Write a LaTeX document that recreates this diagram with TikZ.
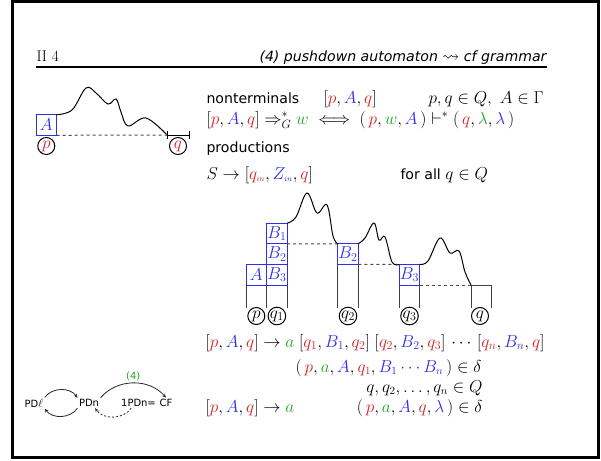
\documentclass[tikz,border=0pt]{standalone}
\usepackage{amsmath,amssymb}
\usepackage{fontspec}
\setsansfont{DejaVu Sans}[Scale=0.83]
\usetikzlibrary{calc, positioning, arrows.meta}

\definecolor{stred}{RGB}{210,35,35}
\definecolor{stblue}{RGB}{45,45,235}
\definecolor{stgreen}{RGB}{35,165,35}
\newcommand{\cst}[1]{\textcolor{stred}{#1}}
\newcommand{\csy}[1]{\textcolor{stblue}{#1}}
\newcommand{\cin}[1]{\textcolor{stgreen}{#1}}

\tikzset{
  stackbox/.style={draw=stblue, text=stblue, minimum size=20.6pt, inner sep=0pt, outer sep=0pt},
  statecirc/.style={draw, circle, minimum size=17pt, inner sep=0pt},
  txt/.style={anchor=base west, inner sep=0pt},
  rtxt/.style={anchor=base east, inner sep=0pt, font=\fontsize{16.2}{19}\selectfont},
  wave/.style={smooth, tension=0.6},
  leg/.style={black!75},
  dashline/.style={black!70, dash pattern=on 3pt off 3pt},
  cls/.style={font=\sffamily\fontsize{12}{14}\selectfont, inner sep=1pt},
  arr/.style={-{Stealth[length=4pt,width=3.5pt]}, black!85, line width=0.8pt},
}

\begin{document}
\fontsize{17}{20}\selectfont
\begin{tikzpicture}[x=1pt, y=-1pt, line width=1pt]
  \useasboundingbox (0,0) rectangle (601,460);

  % --- Frame and header ---
  \draw[line width=3pt] (12.5,1.5) rectangle (598.5,457.5);
  \node[txt, font=\rmfamily\fontsize{15.5}{18}\selectfont] (sec) at (36,61) {II 4};
  \node[rtxt, font=\sffamily\itshape\fontsize{17}{20}\selectfont] (title) at (547,61)
    {(4) pushdown automaton $\rightsquigarrow$ cf grammar};
  \draw[line width=2.2pt] (36,67) -- (547,67);

  % --- Left picture: one symbol A popped from p to q ---
  \node[stackbox] (lA) at (46.3,125) {$A$};
  \coordinate (lqL) at (167,135);
  \coordinate (lqR) at (189,135);
  \draw plot[wave] coordinates {(lA.north east) (72,110) (86,88) (96,93)
    (108,104) (116,99) (121,112) (128,126) (146,118) (lqL)};
  \draw[dashline] (lA.south east) -- (lqL);
  \draw (lqL) -- (lqR);
  \draw (lqL) ++(0,-4) -- ++(0,8);
  \draw (lqR) ++(0,-4) -- ++(0,8);
  \node[statecirc] (lp) at (46.3,146) {$\cst p$};
  \node[statecirc] (lq) at (178,146) {$\cst q$};

  % --- Nonterminals ---
  \node[txt, font=\sffamily] (nt) at (206,103) {nonterminals};
  \node[txt] (ntt) at (323,103) {$[\cst p,\csy A,\cst q]$};
  \node[txt] (ntq) at (428,103) {$p,q\in Q,\ A\in\Gamma$};
  \node[txt] (der) at (206,124) {$[\cst p,\csy A,\cst q]\Rightarrow_G^*\cin w
    \iff(\,\cst p,\cin w,\csy A\,)\vdash^*(\,\cst q,\cin\lambda,\csy\lambda\,)$};

  % --- Productions ---
  \node[txt, font=\sffamily] (prod) at (206,152) {productions};
  \node[txt] (start) at (206,179)
    {$S\to[\cst{q_{\scriptscriptstyle in}},\csy{Z_{\scriptscriptstyle in}},\cst q]$};
  \node[txt, font=\sffamily] (forall) at (400,179) {for all $q\in Q$};

  % --- Middle picture: A replaced by B1 B2 B3 ---
  \node[stackbox] (mA) at (256.3,274.7) {$A$};
  \node[stackbox, right=0pt of mA] (mB3) {$B_3$};
  \node[stackbox, above=0pt of mB3] (mB2) {$B_2$};
  \node[stackbox, above=0pt of mB2] (mB1) {$B_1$};
  \node[stackbox] (nB2) at (348,254.1) {$B_2$};
  \node[stackbox] (nB3) at (409.5,274.7) {$B_3$};
  \coordinate (qL) at (471,285);
  \coordinate (qR) at (491,285);

  \foreach \a in {mA.south west, mA.south east, mB3.south east, nB2.south west,
                  nB2.south east, nB3.south west, nB3.south east, qL, qR}
    \draw[leg] (\a) -- (\a |- 0,308);
  \draw[leg] (qL) -- (qR);

  \draw[dashline] (mB1.south east) -- (nB2.north west);
  \draw[dashline] (nB2.south east) -- (nB3.north west);
  \draw[dashline] (nB3.south east) -- (qL);

  \draw plot[wave] coordinates {(mB1.north east) (296,217) (307,193) (317,213)
    (327,205) (333,236) (nB2.north west)};
  \draw plot[wave] coordinates {(nB2.north east) (365,238) (374,223) (379,240)
    (385,237) (392,262) (nB3.north west)};
  \draw plot[wave] coordinates {(nB3.north east) (428,261) (440,238) (450,253)
    (459,251) (465,272) (qL)};

  \node[statecirc] (cp) at (256.3,316) {$p$};
  \node[statecirc] (cq1) at (276.9,316) {$q_1$};
  \node[statecirc] (cq2) at (348,316) {$q_2$};
  \node[statecirc] (cq3) at (409.5,316) {$q_3$};
  \node[statecirc] (cq) at (480,316) {$q$};

  % --- Rules ---
  \node[txt] (rule1) at (205,347) {$[\cst p,\csy A,\cst q]\to\cin a\;[\cst{q_1},\csy{B_1},\cst{q_2}]\;
    [\cst{q_2},\csy{B_2},\cst{q_3}]\,\cdots\,[\cst{q_n},\csy{B_n},\cst q]$};
  \node[rtxt] (cond1) at (482,372) {$(\,\cst p,\cin a,\csy A,\cst{q_1},\csy{B_1\cdots B_n}\,)\in\delta$};
  \node[rtxt] (cond2) at (483,392) {$q,q_2,\ldots,q_n\in Q$};
  \node[txt] (rule2) at (205,412) {$[\cst p,\csy A,\cst q]\to\cin a$};
  \node[rtxt] (cond3) at (483,412) {$(\,\cst p,\cin a,\csy A,\cst q,\csy\lambda\,)\in\delta$};

  % --- Small map of the classes ---
  \node[cls] (PDl) at (34,403) {PD$\ell$};
  \node[cls] (PDn) at (89,403) {PDn};
  \node[cls] (PDone) at (138.5,403) {1PDn=};
  \node[cls] (CF) at (166,403) {CF};
  \draw[arr] (PDl.north east) to[bend left=55] (PDn.north west);
  \draw[arr] (PDn.south west) to[bend left=55] (PDl.south east);
  \draw[arr] (PDn.north east) to[bend left=50]
    node[midway, above=1pt, cls, text=stgreen] {(4)} (CF.north);
  \draw[arr, dash pattern=on 2pt off 2pt] (PDone.215) to[bend left=56] (PDn.-40);

\end{tikzpicture}
\end{document}
